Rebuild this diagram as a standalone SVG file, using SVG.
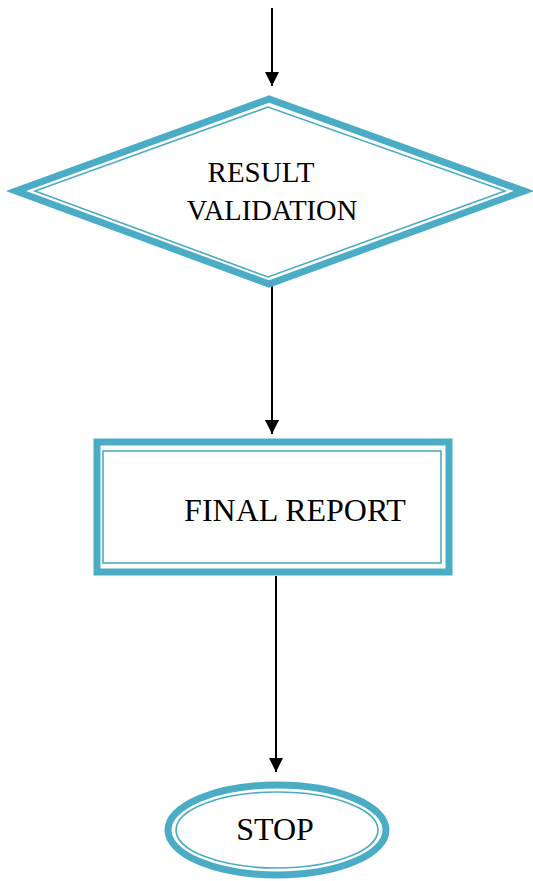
<svg xmlns="http://www.w3.org/2000/svg" width="533" height="881" viewBox="0 0 533 881">
<style>
.band{fill:none;stroke:#4BACC6;stroke-width:7}
.thin{fill:none;stroke:#4BACC6;stroke-width:1.6}
.lbl{font-family:"Liberation Serif","Times New Roman",serif;fill:#000;text-anchor:middle}
.conn{stroke:#000;stroke-width:2;fill:none}
</style>
<defs>
<marker id="ah" markerUnits="userSpaceOnUse" markerWidth="16" markerHeight="16" viewBox="0 0 16 16" refX="14" refY="8" orient="auto">
<path d="M0,1 L14,8 L0,15 Z" fill="#000"/>
</marker>
</defs>
<rect width="533" height="881" fill="#fff"/>
<g id="connectors">
<line class="conn" x1="272" y1="8" x2="272" y2="86" marker-end="url(#ah)"/>
<line class="conn" x1="272" y1="285" x2="272" y2="434" marker-end="url(#ah)"/>
<line class="conn" x1="276" y1="576" x2="276" y2="772" marker-end="url(#ah)"/>
</g>
<g id="decision">
<polygon class="band" points="269,99 16,191 269,284 524,191"/>
<polygon class="thin" points="268,107 35,191 268,277 505,191"/>
<text class="lbl" x="261" y="182" font-size="29">RESULT</text>
<text class="lbl" x="272" y="220" font-size="28.5">VALIDATION</text>
</g>
<g id="final-report">
<rect class="band" x="97" y="442" width="352" height="130" stroke-width="8"/>
<rect class="thin" x="103" y="451" width="338" height="112"/>
<text class="lbl" x="295" y="521" font-size="32">FINAL REPORT</text>
</g>
<g id="stop">
<ellipse class="band" cx="277" cy="830" rx="109" ry="45"/>
<ellipse class="thin" cx="277" cy="830" rx="101" ry="38"/>
<text class="lbl" x="275" y="840" font-size="32">STOP</text>
</g>
</svg>
